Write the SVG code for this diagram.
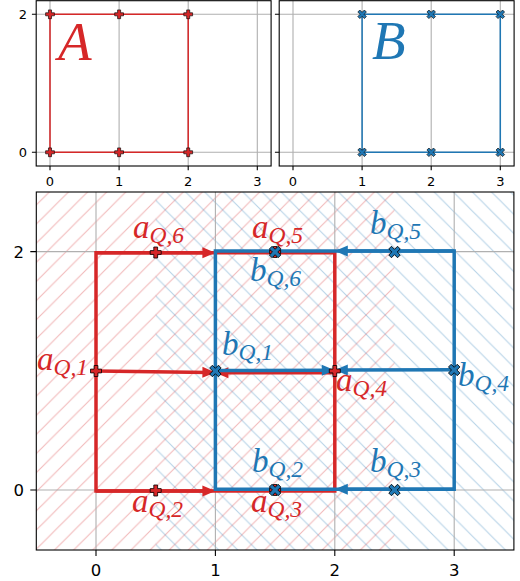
<svg xmlns="http://www.w3.org/2000/svg" xmlns:xlink="http://www.w3.org/1999/xlink" width="520" height="581" viewBox="0 0 520 581">
<style>
.grid{stroke:#b0b0b0;stroke-width:1.1;fill:none}
.spine{fill:none;stroke:#000;stroke-width:1.1}
.tick{stroke:#000;stroke-width:1.1;fill:none}
.tl{font-family:"DejaVu Sans",sans-serif;font-size:13px;fill:#000}
.tl2{font-family:"DejaVu Sans",sans-serif;font-size:16.5px;fill:#000}
.rl{stroke:#d62728;stroke-width:3.5;fill:none;stroke-linejoin:miter}
.bl{stroke:#1f77b4;stroke-width:3.5;fill:none;stroke-linejoin:miter}
.rt{stroke:#d62728;stroke-width:1.5;fill:none}
.bt{stroke:#1f77b4;stroke-width:1.5;fill:none}
.lbl{font-family:"Liberation Serif","DejaVu Serif",serif;font-style:italic;font-size:33px}
.big{font-family:"Liberation Serif","DejaVu Serif",serif;font-style:italic;font-size:55px}
.sub{font-size:23.5px}
.red{fill:#d62728}
.blue{fill:#1f77b4}
.pm{fill:#d62728;stroke:#000;stroke-width:0.8}
.xm{fill:#1f77b4;stroke:#000;stroke-width:0.8}
</style>
<defs>
<pattern id="hr" patternUnits="userSpaceOnUse" x="155.7" y="391.5" width="19.12" height="19.12">
<path d="M-1,1 L1,-1 M-1,20.12 L20.12,-1 M18.12,20.12 L20.12,18.12" stroke="#d62728" stroke-opacity="0.32" stroke-width="1.1" fill="none"/>
</pattern>
<pattern id="hb" patternUnits="userSpaceOnUse" x="155.7" y="391.5" width="19.12" height="19.12">
<path d="M-1,-1 L20.12,20.12 M-1,18.12 L1,20.12 M18.12,-1 L20.12,1" stroke="#1f77b4" stroke-opacity="0.32" stroke-width="1.1" fill="none"/>
</pattern>
<path id="plus" d="M-1.9,-5.5H1.9V-1.9H5.5V1.9H1.9V5.5H-1.9V1.9H-5.5V-1.9H-1.9Z"/>
<path id="xmk" d="M-1.9,-6.2H1.9V-1.9H6.2V1.9H1.9V6.2H-1.9V1.9H-6.2V-1.9H-1.9Z" transform="rotate(45)"/>
<marker id="ahr" markerUnits="userSpaceOnUse" markerWidth="14" markerHeight="12" refX="7" refY="5.5" orient="auto" overflow="visible">
<path d="M0,0 L13,5.5 L0,11 Z" fill="#d62728"/>
</marker>
<marker id="ahb" markerUnits="userSpaceOnUse" markerWidth="14" markerHeight="12" refX="7" refY="5.5" orient="auto" overflow="visible">
<path d="M0,0 L13,5.5 L0,11 Z" fill="#1f77b4"/>
</marker>
</defs>
<rect width="520" height="581" fill="#fff"/>

<!-- Panel A -->
<g id="panelA">
<g class="grid">
<path d="M50,0.7V166M119.1,0.7V166M188.2,0.7V166M257.3,0.7V166M36.2,14.3H271.1M36.2,152.3H271.1"/>
</g>
<path class="rt" d="M50,14.3H188.2V152.3H50Z"/>
<g>
<use xlink:href="#plus" class="pm" transform="translate(50,14.3) scale(0.8)"/>
<use xlink:href="#plus" class="pm" transform="translate(119.1,14.3) scale(0.8)"/>
<use xlink:href="#plus" class="pm" transform="translate(188.2,14.3) scale(0.8)"/>
<use xlink:href="#plus" class="pm" transform="translate(50,152.3) scale(0.8)"/>
<use xlink:href="#plus" class="pm" transform="translate(119.1,152.3) scale(0.8)"/>
<use xlink:href="#plus" class="pm" transform="translate(188.2,152.3) scale(0.8)"/>
</g>
<text class="big red" x="58" y="60">A</text>
<rect class="spine" x="36.2" y="0.7" width="234.9" height="165.3"/>
<path class="tick" d="M36.2,14.3H31.9M36.2,152.3H31.9M50,166V170.3M119.1,166V170.3M188.2,166V170.3M257.3,166V170.3"/>
<text class="tl" x="27" y="19" text-anchor="end">2</text>
<text class="tl" x="27" y="157" text-anchor="end">0</text>
<text class="tl" x="50" y="185.5" text-anchor="middle">0</text>
<text class="tl" x="119.1" y="185.5" text-anchor="middle">1</text>
<text class="tl" x="188.2" y="185.5" text-anchor="middle">2</text>
<text class="tl" x="257.3" y="185.5" text-anchor="middle">3</text>
</g>

<!-- Panel B -->
<g id="panelB">
<g class="grid">
<path d="M293,0.7V166M362.1,0.7V166M431.2,0.7V166M500.3,0.7V166M279.2,14.3H514.1M279.2,152.3H514.1"/>
</g>
<path class="bt" d="M362.1,14.3H500.3V152.3H362.1Z"/>
<g>
<use xlink:href="#xmk" class="xm" transform="translate(362.1,14.3) scale(0.75)"/>
<use xlink:href="#xmk" class="xm" transform="translate(431.2,14.3) scale(0.75)"/>
<use xlink:href="#xmk" class="xm" transform="translate(500.3,14.3) scale(0.75)"/>
<use xlink:href="#xmk" class="xm" transform="translate(362.1,152.3) scale(0.75)"/>
<use xlink:href="#xmk" class="xm" transform="translate(431.2,152.3) scale(0.75)"/>
<use xlink:href="#xmk" class="xm" transform="translate(500.3,152.3) scale(0.75)"/>
</g>
<text class="big blue" x="372" y="59">B</text>
<rect class="spine" x="279.2" y="0.7" width="234.9" height="165.3"/>
<path class="tick" d="M279.2,14.3H274.9M279.2,152.3H274.9M293,166V170.3M362.1,166V170.3M431.2,166V170.3M500.3,166V170.3"/>
<text class="tl" x="293" y="185.5" text-anchor="middle">0</text>
<text class="tl" x="362.1" y="185.5" text-anchor="middle">1</text>
<text class="tl" x="431.2" y="185.5" text-anchor="middle">2</text>
<text class="tl" x="500.3" y="185.5" text-anchor="middle">3</text>
</g>

<!-- Main panel background hatching -->
<g id="hatching">
<rect x="36.3" y="192" width="358.2" height="358" fill="url(#hr)"/>
<rect x="155.7" y="192" width="358.2" height="358" fill="url(#hb)"/>
</g>
<g id="maingrid" class="grid">
<path d="M96,192V550M215.4,192V550M334.8,192V550M454.2,192V550M36.3,251.6H513.9M36.3,490H513.9"/>
</g>

<!-- Connectors -->
<g id="connectors">
<g id="edgesA">
<path class="rl" d="M96,491V252.8H334.8V491Z"/>
<path class="rl" d="M96,252.8H209.4" marker-end="url(#ahr)"/>
<path class="rl" d="M96,491H209.4" marker-end="url(#ahr)"/>
<path class="rl" d="M96,371L209.4,372.4" marker-end="url(#ahr)"/>
<path class="rl" d="M334.8,372.8H221.4" marker-end="url(#ahr)"/>
</g>
<g id="edgesB">
<path class="bl" d="M215.4,489.3V251H454.2V489.3Z"/>
<path class="bl" d="M454.2,251H340.8" marker-end="url(#ahb)"/>
<path class="bl" d="M454.2,489.3H340.8" marker-end="url(#ahb)"/>
<path class="bl" d="M215.4,370.6L328.8,370.2" marker-end="url(#ahb)"/>
<path class="bl" d="M454.2,369.7L340.8,370" marker-end="url(#ahb)"/>
</g>
</g>

<!-- Nodes -->
<g id="aQ1"><use xlink:href="#plus" class="pm" x="96" y="371"/>
<text class="lbl red" x="37" y="370">a<tspan class="sub" dy="5">Q,1</tspan></text></g>
<g id="aQ2"><use xlink:href="#plus" class="pm" x="155.7" y="490.5"/>
<text class="lbl red" x="132" y="512">a<tspan class="sub" dy="5">Q,2</tspan></text></g>
<g id="aQ3"><use xlink:href="#plus" class="pm" x="275.1" y="490"/>
<text class="lbl red" x="251" y="512">a<tspan class="sub" dy="5">Q,3</tspan></text></g>
<g id="aQ4"><use xlink:href="#plus" class="pm" x="334.8" y="371"/>
<text class="lbl red" x="336" y="391">a<tspan class="sub" dy="5">Q,4</tspan></text></g>
<g id="aQ5"><use xlink:href="#plus" class="pm" x="275.1" y="252"/>
<text class="lbl red" x="252" y="238">a<tspan class="sub" dy="5">Q,5</tspan></text></g>
<g id="aQ6"><use xlink:href="#plus" class="pm" x="155.7" y="252.5"/>
<text class="lbl red" x="133" y="238">a<tspan class="sub" dy="5">Q,6</tspan></text></g>

<g id="bQ1"><use xlink:href="#xmk" class="xm" x="215.4" y="371"/>
<text class="lbl blue" x="222" y="355">b<tspan class="sub" dy="5">Q,1</tspan></text></g>
<g id="bQ2"><use xlink:href="#xmk" class="xm" x="275.1" y="490"/>
<text class="lbl blue" x="252" y="472">b<tspan class="sub" dy="5">Q,2</tspan></text></g>
<g id="bQ3"><use xlink:href="#xmk" class="xm" x="394.5" y="490"/>
<text class="lbl blue" x="370" y="472">b<tspan class="sub" dy="5">Q,3</tspan></text></g>
<g id="bQ4"><use xlink:href="#xmk" class="xm" x="454.2" y="370"/>
<text class="lbl blue" x="458" y="386">b<tspan class="sub" dy="5">Q,4</tspan></text></g>
<g id="bQ5"><use xlink:href="#xmk" class="xm" x="394.5" y="252"/>
<text class="lbl blue" x="370" y="234">b<tspan class="sub" dy="5">Q,5</tspan></text></g>
<g id="bQ6"><use xlink:href="#xmk" class="xm" x="275.1" y="252"/>
<text class="lbl blue" x="250" y="281">b<tspan class="sub" dy="5">Q,6</tspan></text></g>

<!-- Main axes frame and ticks -->
<g id="mainaxes">
<rect class="spine" x="36.3" y="192" width="477.6" height="358"/>
<path class="tick" d="M36.3,251.6H30.3M36.3,490H30.3M96,550V556M215.4,550V556M334.8,550V556M454.2,550V556"/>
<text class="tl2" x="24" y="257.8" text-anchor="end">2</text>
<text class="tl2" x="24" y="496" text-anchor="end">0</text>
<text class="tl2" x="96" y="575.7" text-anchor="middle">0</text>
<text class="tl2" x="215.4" y="575.7" text-anchor="middle">1</text>
<text class="tl2" x="334.8" y="575.7" text-anchor="middle">2</text>
<text class="tl2" x="454.2" y="575.7" text-anchor="middle">3</text>
</g>
</svg>
